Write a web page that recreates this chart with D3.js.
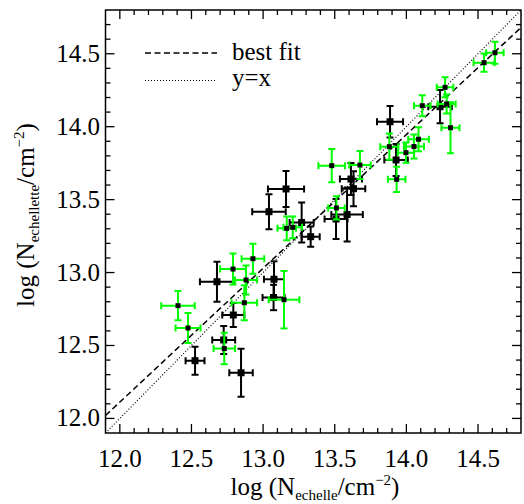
<!DOCTYPE html>
<html><head><meta charset="utf-8">
<script src="https://cdn.jsdelivr.net/npm/d3@7"></script>
<style>
html,body{margin:0;padding:0;background:#fff;}
svg text{font-family:"Liberation Serif","Times New Roman",Times,"DejaVu Serif","Noto Serif",serif;}
</style>
</head><body>
<svg id="chart" width="524" height="504"></svg>
<script>
const xDomain = [11.9, 14.8];
const yDomain = [11.9, 14.8];
const majorTicks = [12.0, 12.5, 13.0, 13.5, 14.0, 14.5];
const tickLabels = ["12.0", "12.5", "13.0", "13.5", "14.0", "14.5"];
const minorTicks = d3.range(0, 30).map(i => +(11.9 + i * 0.1).toFixed(2));

const blackX    = [12.525,12.678,12.792,12.725,12.846,13.076,13.073,13.160,13.041,13.269,13.332,13.509,13.586,13.613,13.631,13.886,13.928,14.235];
const blackY    = [12.396,12.937,12.709,12.538,12.313,12.954,12.829,13.573,13.417,13.343,13.246,13.367,13.398,13.641,13.575,14.034,13.772,14.137];
const blackXerr = [0.066,0.119,0.077,0.080,0.082,0.070,0.077,0.126,0.117,0.084,0.063,0.080,0.110,0.077,0.082,0.091,0.082,0.082];
const blackYerr = [0.096,0.137,0.082,0.096,0.165,0.123,0.087,0.123,0.120,0.137,0.069,0.137,0.185,0.110,0.120,0.108,0.110,0.114];

const greenX    = [12.406,12.476,12.729,12.790,12.929,12.869,12.881,13.146,13.165,13.207,13.479,13.512,13.676,13.881,13.932,13.997,14.053,14.085,14.111,14.270,14.281,14.308,14.542,14.618];
const greenY    = [12.773,12.620,12.479,13.024,13.095,12.793,12.949,12.814,13.303,13.310,13.733,13.443,13.737,13.863,13.639,13.822,13.864,13.914,14.144,14.270,14.156,13.993,14.439,14.507];
const greenXerr = [0.117,0.087,0.075,0.090,0.079,0.089,0.077,0.107,0.065,0.065,0.093,0.058,0.075,0.063,0.061,0.057,0.070,0.072,0.058,0.058,0.063,0.063,0.073,0.061];
const greenYerr = [0.100,0.103,0.108,0.106,0.103,0.120,0.100,0.197,0.082,0.075,0.114,0.080,0.096,0.090,0.086,0.069,0.082,0.082,0.072,0.069,0.065,0.175,0.062,0.075];

const fitLine = [[11.9, 12.02], [14.8, 14.68]];
const unityLine = [[11.9, 11.9], [14.8, 14.8]];
const legendLabels = ["best fit", "y=x"];

const L = 105.5, R = 521, T = 10, B = 433;
const FS = 25;
const svg = d3.select("#chart");
const x = d3.scaleLinear().domain(xDomain).range([L, R]);
const y = d3.scaleLinear().domain(yDomain).range([B, T]);

svg.append("defs").append("clipPath").attr("id", "clip")
  .append("rect").attr("x", L).attr("y", T).attr("width", R - L).attr("height", B - T);

const plot = svg.append("g").attr("clip-path", "url(#clip)");
const line = d3.line().x(d => x(d[0])).y(d => y(d[1]));
plot.append("path").attr("d", line(fitLine)).attr("fill", "none")
  .attr("stroke", "#000").attr("stroke-width", 1.5).attr("stroke-dasharray", "6,3.5");
plot.append("path").attr("d", line(unityLine)).attr("fill", "none")
  .attr("stroke", "#000").attr("stroke-width", 1.2).attr("stroke-dasharray", "1,2");

function drawSeries(xs, ys, xe, ye, color, msize) {
  const g = plot.append("g");
  const data = xs.map((v, i) => ({x: v, y: ys[i], xe: xe[i], ye: ye[i]}));
  const cap = 3.5;
  const pts = g.selectAll("g.pt").data(data).enter().append("g").attr("class", "pt");
  pts.each(function(d) {
    const s = d3.select(this);
    const cx = x(d.x), cy = y(d.y);
    const x0 = x(d.x - d.xe), x1 = x(d.x + d.xe);
    const y0 = y(d.y - d.ye), y1 = y(d.y + d.ye);
    const segs = [
      [x0, cy, x1, cy], [cx, y0, cx, y1],
      [x0, cy - cap, x0, cy + cap], [x1, cy - cap, x1, cy + cap],
      [cx - cap, y0, cx + cap, y0], [cx - cap, y1, cx + cap, y1]
    ];
    segs.forEach(sg => s.append("line").attr("x1", sg[0]).attr("y1", sg[1]).attr("x2", sg[2]).attr("y2", sg[3])
      .attr("stroke", color).attr("stroke-width", 2));
  });
  g.selectAll("rect").data(data).enter().append("rect")
    .attr("x", d => x(d.x) - msize / 2).attr("y", d => y(d.y) - msize / 2)
    .attr("width", msize).attr("height", msize).attr("fill", "#000");
}
drawSeries(blackX, blackY, blackXerr, blackYerr, "#000", 7);
drawSeries(greenX, greenY, greenXerr, greenYerr, "#00ff00", 5);

// frame
const ax = svg.append("g");
ax.append("rect").attr("x", L).attr("y", T).attr("width", R - L).attr("height", B - T)
  .attr("fill", "none").attr("stroke", "#000").attr("stroke-width", 1.5);

const MAJ = 9, MIN = 5;
const isMajor = v => majorTicks.some(m => Math.abs(m - v) < 1e-6);
minorTicks.forEach(v => {
  const len = isMajor(v) ? MAJ : MIN;
  if (v > xDomain[0] + 1e-6 && v < xDomain[1] - 1e-6) {
    ax.append("line").attr("x1", x(v)).attr("x2", x(v)).attr("y1", B).attr("y2", B - len).attr("stroke", "#000").attr("stroke-width", 1.3);
    ax.append("line").attr("x1", x(v)).attr("x2", x(v)).attr("y1", T).attr("y2", T + len).attr("stroke", "#000").attr("stroke-width", 1.3);
  }
  if (v > yDomain[0] + 1e-6 && v < yDomain[1] - 1e-6) {
    ax.append("line").attr("y1", y(v)).attr("y2", y(v)).attr("x1", L).attr("x2", L + len).attr("stroke", "#000").attr("stroke-width", 1.3);
    ax.append("line").attr("y1", y(v)).attr("y2", y(v)).attr("x1", R).attr("x2", R - len).attr("stroke", "#000").attr("stroke-width", 1.3);
  }
});

majorTicks.forEach((v, i) => {
  ax.append("text").attr("x", x(v)).attr("y", 467).attr("text-anchor", "middle")
    .attr("font-size", FS).text(tickLabels[i]);
  ax.append("text").attr("x", 100).attr("y", y(v) + 8).attr("text-anchor", "end")
    .attr("font-size", FS).text(tickLabels[i]);
});

// axis titles
function title(t, parts) {
  parts.forEach(p => {
    const ts = t.append("tspan").text(p.t);
    if (p.sub) ts.attr("font-size", 15).attr("baseline-shift", "-5");
    if (p.sup) ts.attr("font-size", 15).attr("baseline-shift", "10");
  });
}
const xt = svg.append("text").attr("x", 315).attr("y", 495).attr("text-anchor", "middle")
  .attr("font-size", FS);
title(xt, [{t: "log (N"}, {t: "echelle", sub: true}, {t: "/cm"}, {t: "\u22122", sup: true}, {t: ")"}]);
const yt = svg.append("text").attr("transform", "translate(34,215) rotate(-90)").attr("text-anchor", "middle")
  .attr("font-size", FS);
title(yt, [{t: "log (N"}, {t: "echellette", sub: true}, {t: "/cm"}, {t: "\u22122", sup: true}, {t: ")"}]);

// legend
const lg = svg.append("g");
lg.append("line").attr("x1", 145).attr("x2", 217).attr("y1", 53).attr("y2", 53)
  .attr("stroke", "#000").attr("stroke-width", 1.5).attr("stroke-dasharray", "6,3.5");
lg.append("line").attr("x1", 145).attr("x2", 215).attr("y1", 80.5).attr("y2", 80.5)
  .attr("stroke", "#000").attr("stroke-width", 1.2).attr("stroke-dasharray", "1,2");
lg.append("text").attr("x", 232).attr("y", 60).attr("font-size", FS).text(legendLabels[0]);
lg.append("text").attr("x", 232).attr("y", 86).attr("font-size", FS).text(legendLabels[1]);
</script>
</body></html>
